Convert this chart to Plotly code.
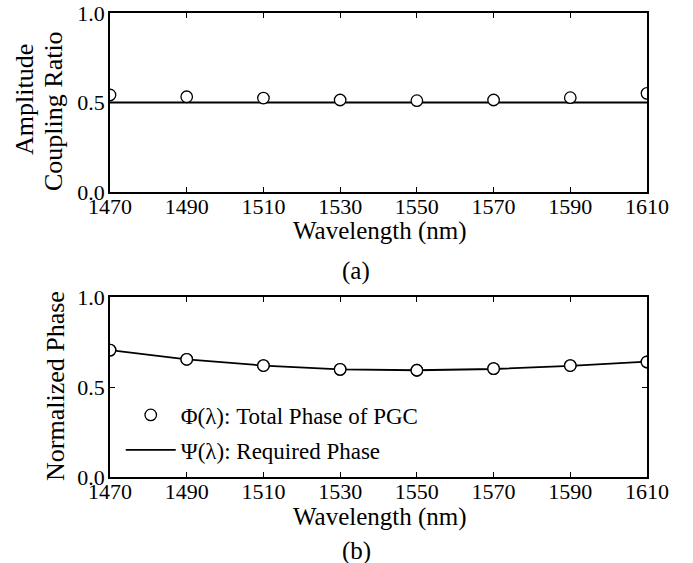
import plotly.graph_objects as go

wavelength = [1470, 1490, 1510, 1530, 1550, 1570, 1590, 1610]
ratio_pgc = [0.542, 0.532, 0.525, 0.514, 0.510, 0.514, 0.527, 0.551]
ratio_req = [0.5, 0.5, 0.5, 0.5, 0.5, 0.5, 0.5, 0.5]
phase_pgc = [0.705, 0.654, 0.619, 0.598, 0.593, 0.602, 0.619, 0.639]
phase_req = [0.705, 0.654, 0.619, 0.598, 0.593, 0.600, 0.617, 0.641]
xticks = [1470, 1490, 1510, 1530, 1550, 1570, 1590, 1610]
yticks = [0.0, 0.5, 1.0]
yticktext = ["0.0", "0.5", "1.0"]

FONT = "Liberation Serif"
W, H = 693, 563
ML, MR, MT, MB = 110, 46, 13, 86
PW, PH = W - ML - MR, H - MT - MB


def px_x(x):
    return (x - ML) / PW


def px_y(y):
    return (H - MB - y) / PH


fig = go.Figure()

marker = dict(symbol="circle", size=11.5, color="white", line=dict(color="black", width=1.3))

fig.add_trace(go.Scatter(x=wavelength, y=ratio_req, mode="lines", line=dict(color="black", width=1.8),
                         xaxis="x", yaxis="y", showlegend=False))
fig.add_trace(go.Scatter(x=wavelength, y=ratio_pgc, mode="markers", marker=marker,
                         xaxis="x", yaxis="y", showlegend=False))
fig.add_trace(go.Scatter(x=wavelength, y=phase_pgc, mode="markers", marker=marker,
                         xaxis="x2", yaxis="y2", name="Φ(λ): Total Phase of PGC", legendgroup="a"))
fig.add_trace(go.Scatter(x=wavelength, y=phase_req, mode="lines", line=dict(color="black", width=1.8),
                         xaxis="x2", yaxis="y2", name="Ψ(λ): Required Phase", legendgroup="b"))
fig.add_trace(go.Scatter(x=wavelength, y=phase_pgc, mode="markers", marker=marker,
                         xaxis="x2", yaxis="y2", showlegend=False, legendgroup="a"))

axis_common = dict(showline=True, linecolor="black", linewidth=1.8, mirror="ticks",
                   ticks="inside", ticklen=5, tickwidth=1.3, tickcolor="black",
                   showgrid=False, zeroline=False, automargin=False,
                   tickfont=dict(family=FONT, size=22, color="black"))

fig.update_layout(
    width=W, height=H,
    margin=dict(l=ML, r=MR, t=MT, b=MB, autoexpand=False),
    paper_bgcolor="white", plot_bgcolor="white",
    font=dict(family=FONT, size=22, color="black"),
    xaxis=dict(**axis_common, range=[1470, 1610], tickvals=xticks, domain=[0, 1], anchor="y",
               ticklabelstandoff=-6),
    yaxis=dict(**axis_common, range=[0, 1], tickvals=yticks, ticktext=yticktext,
               domain=[px_y(192), 1], anchor="x", ticklabelstandoff=-1),
    xaxis2=dict(**axis_common, range=[1470, 1610], tickvals=xticks, domain=[0, 1], anchor="y2",
                ticklabelstandoff=-6),
    yaxis2=dict(**axis_common, range=[0, 1], tickvals=yticks, ticktext=yticktext,
                domain=[0, px_y(297)], anchor="x2", ticklabelstandoff=-1),
    legend=dict(x=0.02, y=0.18, xanchor="left", yanchor="top", bgcolor="rgba(0,0,0,0)",
                font=dict(family=FONT, size=23, color="black"), itemwidth=50,
                traceorder="grouped", tracegroupgap=2),
)

ann = [
    ("Wavelength (nm)", 380, 231, 0, 25),
    ("(a)", 356, 271, 0, 25),
    ("Wavelength (nm)", 380, 517, 0, 25),
    ("(b)", 356, 551, 0, 25),
    ("Amplitude", 24, 100, -90, 26),
    ("Coupling Ratio", 54, 111, -90, 26),
    ("Normalized Phase", 55, 386, -90, 26),
]
for text, x, y, ang, fs in ann:
    fig.add_annotation(text=text, x=px_x(x), y=px_y(y), xref="paper", yref="paper",
                       xanchor="center", yanchor="middle", showarrow=False, textangle=ang,
                       font=dict(family=FONT, size=fs, color="black"))

fig.write_html("out.html")
